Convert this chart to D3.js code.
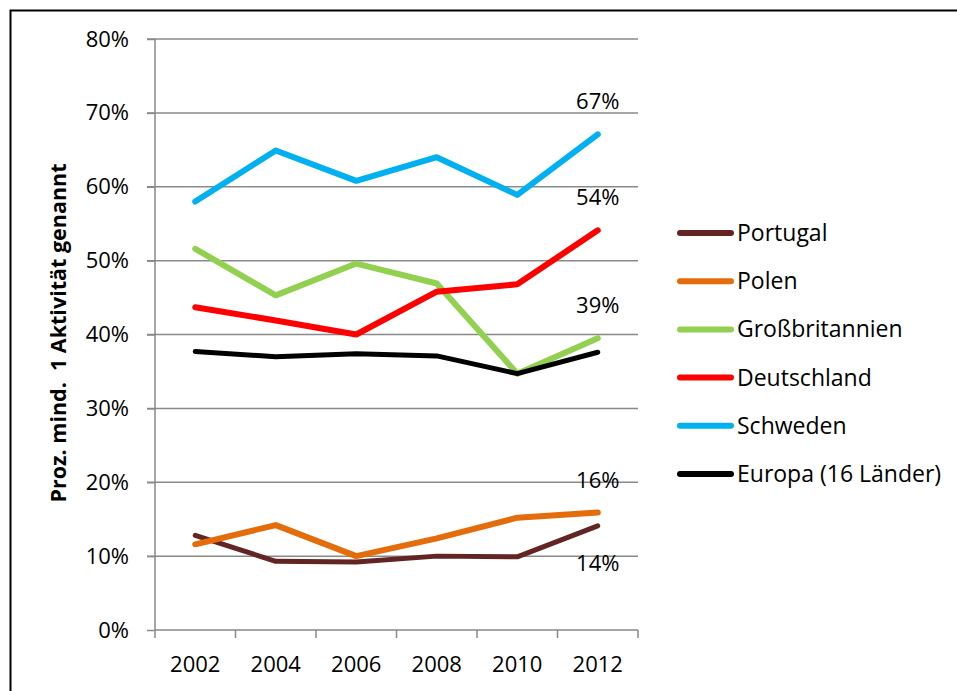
<!DOCTYPE html>
<html>
<head>
<meta charset="utf-8">
<script src="https://cdn.jsdelivr.net/npm/d3@7"></script>
<style>
  body { margin: 0; background: #fff; }
  svg { display: block; }
</style>
</head>
<body>
<div id="vis"></div>
<script>
const years = ["2002", "2004", "2006", "2008", "2010", "2012"];
const yTicks = [0, 10, 20, 30, 40, 50, 60, 70, 80];

const portugal = [12.8, 9.3, 9.2, 10.0, 9.9, 14.1];
const polen = [11.6, 14.2, 10.0, 12.4, 15.2, 15.9];
const grossbritannien = [51.6, 45.3, 49.6, 46.9, 34.7, 39.5];
const deutschland = [43.7, 41.9, 40.0, 45.8, 46.8, 54.1];
const schweden = [58.0, 64.9, 60.8, 64.0, 58.9, 67.1];
const europa = [37.7, 37.0, 37.4, 37.1, 34.7, 37.6];

const seriesNames = ["Portugal", "Polen", "Großbritannien", "Deutschland", "Schweden", "Europa (16 Länder)"];
const seriesValues = [portugal, polen, grossbritannien, deutschland, schweden, europa];
const seriesColors = ["#632523", "#e46c0a", "#92d050", "#ff0000", "#00b0f0", "#000000"];

// end labels (2012 values) shown in the chart
const endLabels = [
  { text: "67%", series: "Schweden", pos: "above" },
  { text: "54%", series: "Deutschland", pos: "above" },
  { text: "39%", series: "Großbritannien", pos: "above" },
  { text: "16%", series: "Polen", pos: "above" },
  { text: "14%", series: "Portugal", pos: "below" }
];

const width = 957, height = 691;
const font = "'Open Sans', sans-serif";
const gridColor = "#898989";

const svg = d3.select("#vis").append("svg")
  .attr("width", width)
  .attr("height", height);

// outer frame (only top and left edges are visible)
svg.append("path")
  .attr("d", `M10.5,${height + 5}V10.5H${width + 5}`)
  .attr("fill", "none")
  .attr("stroke", "#000")
  .attr("stroke-width", 2);

const x = d3.scaleBand().domain(years).range([155, 638]);
const y = d3.scaleLinear().domain([0, 80]).range([630, 39]);

const data = seriesNames.map((name, i) => ({
  name,
  color: seriesColors[i],
  values: seriesValues[i].map((v, j) => ({ year: years[j], value: v }))
}));

// grid lines
svg.append("g")
  .selectAll("line")
  .data(yTicks.filter(d => d > 0))
  .join("line")
  .attr("x1", 147).attr("x2", 638)
  .attr("y1", d => y(d)).attr("y2", d => y(d))
  .attr("stroke", gridColor)
  .attr("stroke-width", 1.5);

// y axis
const yAxis = svg.append("g")
  .attr("transform", "translate(155,0)")
  .call(d3.axisLeft(y).tickValues(yTicks).tickSize(8).tickPadding(18).tickFormat(d => d + "%"));
yAxis.select(".domain").attr("stroke", gridColor).attr("stroke-width", 1.5)
  .attr("d", `M0,${y(0)}V${y(80)}`);
yAxis.selectAll(".tick line").attr("stroke", gridColor).attr("stroke-width", 1.5);
yAxis.selectAll(".tick text")
  .attr("font-family", font).attr("font-size", 22).attr("fill", "#000");

// x axis
const xAxis = svg.append("g")
  .attr("transform", `translate(0,${y(0)})`)
  .call(d3.axisBottom(x).tickSize(0).tickPadding(26));
xAxis.select(".domain").attr("stroke", gridColor).attr("stroke-width", 1.5)
  .attr("d", `M155,0H638`);
xAxis.selectAll(".tick text")
  .attr("font-family", font).attr("font-size", 22).attr("fill", "#000");
xAxis.append("g")
  .selectAll("line")
  .data(years.map(d => x(d)).concat([x.range()[1]]))
  .join("line")
  .attr("x1", d => d).attr("x2", d => d)
  .attr("y1", 0).attr("y2", 8)
  .attr("stroke", gridColor).attr("stroke-width", 1.5);

// y axis title
svg.append("text")
  .attr("transform", "translate(66,333) rotate(-90)")
  .attr("text-anchor", "middle")
  .attr("font-family", font)
  .attr("font-size", 21.5)
  .attr("font-weight", "bold")
  .attr("xml:space", "preserve")
  .style("white-space", "pre")
  .text("Proz. mind.  1 Aktivität genannt");

// lines
const line = d3.line()
  .x(d => x(d.year) + x.bandwidth() / 2)
  .y(d => y(d.value));

svg.append("g")
  .selectAll("path")
  .data(data)
  .join("path")
  .attr("d", d => line(d.values))
  .attr("fill", "none")
  .attr("stroke", d => d.color)
  .attr("stroke-width", d => d.name === "Portugal" || d.name.startsWith("Europa") ? 5 : 6)
  .attr("stroke-linecap", "round")
  .attr("stroke-linejoin", "round");

// end labels
const last = years[years.length - 1];
svg.append("g")
  .selectAll("text")
  .data(endLabels)
  .join("text")
  .attr("x", x(last) + x.bandwidth() / 2)
  .attr("y", d => {
    const s = data.find(s => s.name === d.series);
    const v = s.values[s.values.length - 1].value;
    return y(v) + (d.pos === "above" ? -25 : 45);
  })
  .attr("text-anchor", "middle")
  .attr("font-family", font)
  .attr("font-size", 22)
  .text(d => d.text);

// legend
const legend = svg.append("g")
  .attr("transform", "translate(677,233)")
  .selectAll("g")
  .data(data)
  .join("g")
  .attr("transform", (d, i) => `translate(0,${i * 48.2})`);

legend.append("line")
  .attr("x1", 3).attr("x2", 54)
  .attr("stroke", d => d.color)
  .attr("stroke-width", 6)
  .attr("stroke-linecap", "round");

legend.append("text")
  .attr("x", 60)
  .attr("dy", "0.35em")
  .attr("font-family", font)
  .attr("font-size", 23)
  .text(d => d.name);
</script>
</body>
</html>
